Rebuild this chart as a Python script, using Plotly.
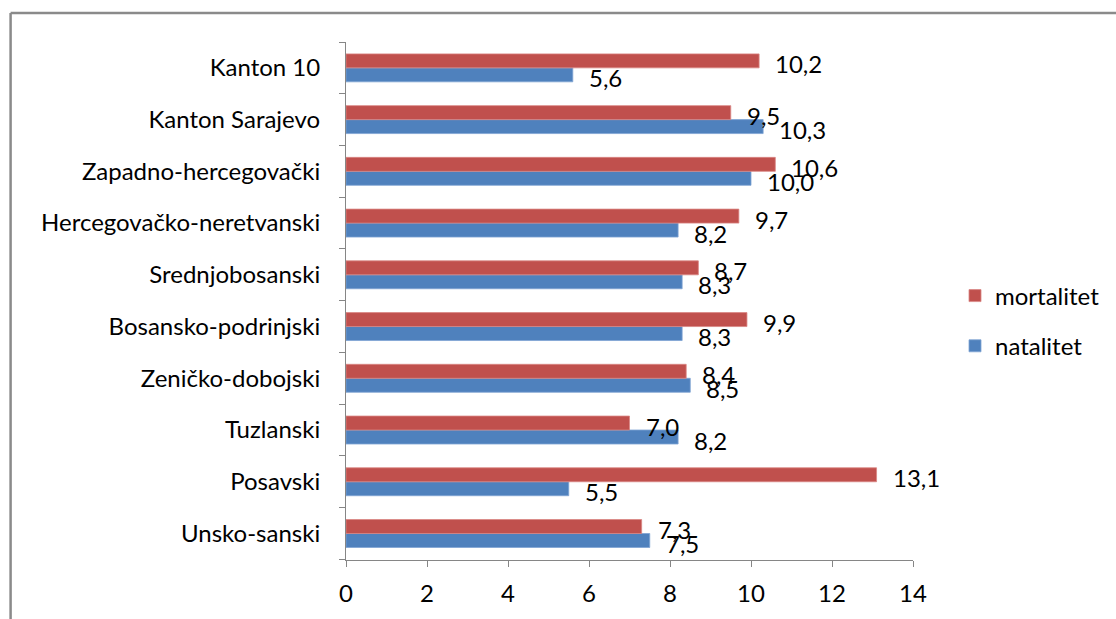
import plotly.graph_objects as go

categories = ["Unsko-sanski", "Posavski", "Tuzlanski", "Zeničko-dobojski",
              "Bosansko-podrinjski", "Srednjobosanski", "Hercegovačko-neretvanski",
              "Zapadno-hercegovački", "Kanton Sarajevo", "Kanton 10"]
natalitet = [7.5, 5.5, 8.2, 8.5, 8.3, 8.3, 8.2, 10.0, 10.3, 5.6]
mortalitet = [7.3, 13.1, 7.0, 8.4, 9.9, 8.7, 9.7, 10.6, 9.5, 10.2]
x_ticks = [0, 2, 4, 6, 8, 10, 12, 14]

W, H = 1116, 619
L, R, T, B = 346, 202, 42, 59
PW, PH = W - L - R, H - T - B
FONT = "Lato"
FS = 24

def px_x(p):
    return (p - L) / PW

def px_y(p):
    return (H - B - p) / PH

fig = go.Figure()
fig.add_trace(go.Bar(y=categories, x=natalitet, orientation="h", name="natalitet",
                     marker=dict(color="#4F81BD", line=dict(color="#7FA3D3", width=0.8)),
                     legendgroup="n", legendrank=2))
fig.add_trace(go.Bar(y=categories, x=mortalitet, orientation="h", name="mortalitet",
                     marker=dict(color="#C0504D", line=dict(color="#D98583", width=0.8)),
                     legendgroup="m", legendrank=1))

def fmt(v):
    return f"{v:.1f}".replace(".", ",")

annotations = []
for c, v in zip(categories, mortalitet):
    annotations.append(dict(x=v, y=c, xref="x", yref="y", text=fmt(v), showarrow=False,
                            xanchor="left", yanchor="middle", xshift=14, yshift=4,
                            font=dict(family=FONT, size=FS, color="#000")))
for c, v in zip(categories, natalitet):
    annotations.append(dict(x=v, y=c, xref="x", yref="y", text=fmt(v), showarrow=False,
                            xanchor="left", yanchor="middle", xshift=14, yshift=-10,
                            font=dict(family=FONT, size=FS, color="#000")))

shapes = [
    dict(type="line", xref="paper", yref="paper", x0=px_x(10), x1=px_x(W + 5),
         y0=px_y(13), y1=px_y(13), line=dict(color="#8a8a8a", width=2.5)),
    dict(type="line", xref="paper", yref="paper", x0=px_x(10), x1=px_x(10),
         y0=px_y(13), y1=px_y(H + 5), line=dict(color="#8a8a8a", width=2.5)),
]

fig.update_layout(
    width=W, height=H,
    margin=dict(l=L, r=R, t=T, b=B, pad=0),
    paper_bgcolor="white", plot_bgcolor="white",
    barmode="group", bargap=0.46, bargroupgap=0,
    font=dict(family=FONT, size=FS, color="#000"),
    showlegend=True,
    legend=dict(x=px_x(955), y=px_y(321), xanchor="left", yanchor="middle",
                traceorder="grouped", tracegroupgap=16,
                font=dict(family=FONT, size=FS, color="#000"),
                bgcolor="rgba(0,0,0,0)"),
    annotations=annotations,
    shapes=shapes,
)
fig.update_xaxes(range=[0, 14], tickvals=x_ticks, ticktext=[str(t) for t in x_ticks],
                 showgrid=False, zeroline=False, showline=True, linecolor="#868686",
                 linewidth=1, ticks="outside", ticklen=6, tickcolor="#868686",
                 ticklabelstandoff=6, tickfont=dict(family=FONT, size=FS, color="#000"))
fig.update_yaxes(type="category", categoryorder="array", categoryarray=categories,
                 showgrid=False, zeroline=False, showline=True, linecolor="#868686",
                 linewidth=1, ticks="outside", ticklen=6, tickcolor="#868686",
                 tickson="boundaries", ticklabelstandoff=20,
                 tickfont=dict(family=FONT, size=FS, color="#000"))

fig.write_html("out.html", config={"displayModeBar": False},
               post_script="document.body.style.margin='0';document.body.style.overflow='hidden';")
